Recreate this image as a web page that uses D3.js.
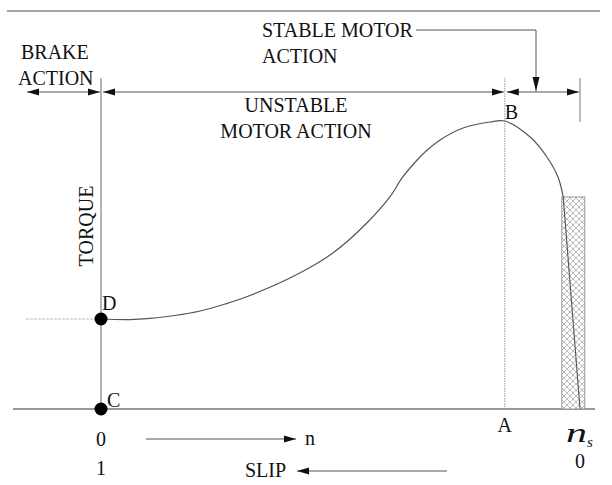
<!DOCTYPE html>
<html><head><meta charset="utf-8">
<script src="https://cdn.jsdelivr.net/npm/d3@7"></script>
<style>
html,body{margin:0;padding:0;background:#fff;}
svg{display:block;}
text{font-family:"Liberation Serif","Times New Roman",serif;fill:#111;}
</style></head>
<body>
<svg id="c" width="612" height="485"></svg>
<script>
// ---- data ----
// speed as a fraction of synchronous speed ns (0 = standstill, 1 = ns)
// torque in per-unit of starting torque (point D = 1)
const curveSpeed  = [0, 0.061, 0.102, 0.154, 0.207, 0.259, 0.311, 0.415, 0.484, 0.555, 0.603, 0.630, 0.660, 0.681, 0.708, 0.756, 0.812, 0.843, 0.896, 0.931, 0.954, 0.965];
const curveTorque = [1.00, 0.994, 1.008, 1.039, 1.089, 1.167, 1.261, 1.511, 1.733, 2.067, 2.356, 2.578, 2.767, 2.878, 2.99, 3.122, 3.189, 3.20, 3.022, 2.80, 2.578, 2.356];
const tailSpeed   = [0.965, 1.0];
const tailTorque  = [2.356, 0];
const pointNames  = ["D", "C"];
const pointSpeed  = [0, 0];
const pointTorque = [1, 0];
const maxTorqueSpeed = 0.843;     // point A / B
const hatchSpeed  = [0.962, 1.01];
const hatchTorque = [0, 2.356];
const speedTickLabels = ["0", "n"];
const slipTickLabels  = ["1", "0"];

// ---- scales ----
const x = d3.scaleLinear().domain([0, 1]).range([101, 580]);
const y = d3.scaleLinear().domain([0, 1]).range([409, 319]);

const svg = d3.select("#c");
const g = svg.append("g");
const lineCol = "#777";

// arrow markers
const defs = svg.append("defs");
function marker(id, dir) {
  const m = defs.append("marker").attr("id", id)
    .attr("markerUnits", "userSpaceOnUse")
    .attr("viewBox", "0 0 12 10").attr("markerWidth", 12).attr("markerHeight", 10)
    .attr("refX", dir > 0 ? 12 : 0).attr("refY", 5).attr("orient", "auto");
  if (dir > 0) m.append("path").attr("d", "M0,1.5 L12,5 L0,8.5 Z").attr("fill", "#111");
  else m.append("path").attr("d", "M12,1.5 L0,5 L12,8.5 Z").attr("fill", "#111");
}
marker("ae", 1); marker("as", -1);
defs.append("marker").attr("id", "down")
  .attr("markerUnits", "userSpaceOnUse")
  .attr("viewBox", "0 0 14 10").attr("markerWidth", 14).attr("markerHeight", 10)
  .attr("refX", 14).attr("refY", 5).attr("orient", "auto")
  .append("path").attr("d", "M0,1.5 L14,5 L0,8.5 Z").attr("fill", "#111");

// crosshatch pattern
const pat = defs.append("pattern").attr("id", "hatch").attr("patternUnits", "userSpaceOnUse")
  .attr("width", 6).attr("height", 6);
pat.append("rect").attr("width", 6).attr("height", 6).attr("fill", "#fff");
pat.append("path").attr("d", "M0,0 L6,6 M6,0 L0,6")
  .attr("stroke", "#aaa").attr("stroke-width", 0.8);

// top rule
g.append("line").attr("x1", 7).attr("x2", 600).attr("y1", 11).attr("y2", 11)
  .attr("stroke", "#888").attr("stroke-width", 1.5);

// baseline (torque = 0)
g.append("line").attr("x1", 13).attr("x2", 595).attr("y1", y(0)).attr("y2", y(0))
  .attr("stroke", lineCol).attr("stroke-width", 1.3);

// torque axis (speed = 0)
g.append("line").attr("x1", x(0)).attr("x2", x(0)).attr("y1", 78).attr("y2", y(0))
  .attr("stroke", lineCol).attr("stroke-width", 1.1);

// dashed line left of D
g.append("line").attr("x1", 26).attr("x2", x(0)).attr("y1", y(1)).attr("y2", y(1))
  .attr("stroke", "#bbb").attr("stroke-width", 1).attr("stroke-dasharray", "3,1");

// dotted line at max torque (A-B)
g.append("line").attr("x1", x(maxTorqueSpeed)).attr("x2", x(maxTorqueSpeed)).attr("y1", 78).attr("y2", y(0))
  .attr("stroke", "#999").attr("stroke-width", 1).attr("stroke-dasharray", "1.5,1");

// right line at ns (top only)
g.append("line").attr("x1", x(1)).attr("x2", x(1)).attr("y1", 78).attr("y2", 122)
  .attr("stroke", lineCol).attr("stroke-width", 1);

// hatched rectangle
g.append("rect")
  .attr("x", x(hatchSpeed[0])).attr("width", x(hatchSpeed[1]) - x(hatchSpeed[0]))
  .attr("y", y(hatchTorque[1])).attr("height", y(hatchTorque[0]) - y(hatchTorque[1]))
  .attr("fill", "url(#hatch)").attr("stroke", "#999").attr("stroke-width", 1);

// torque curve
const pts = curveSpeed.map((s, i) => [s, curveTorque[i]]);
const line = d3.line().x(d => x(d[0])).y(d => y(d[1])).curve(d3.curveCatmullRom.alpha(0.5));
g.append("path").attr("d", line(pts)).attr("fill", "none").attr("stroke", "#555").attr("stroke-width", 1.2);
const tail = tailSpeed.map((s, i) => [s, tailTorque[i]]);
g.append("path").attr("d", d3.line().x(d => x(d[0])).y(d => y(d[1]))(tail))
  .attr("fill", "none").attr("stroke", "#555").attr("stroke-width", 1.1);

// points D, C
pointNames.forEach((n, i) => {
  g.append("circle").attr("cx", x(pointSpeed[i])).attr("cy", y(pointTorque[i])).attr("r", 6.5).attr("fill", "#000");
});
g.append("text").attr("x", x(0) + 1).attr("y", y(1) - 9).attr("font-size", 20).text(pointNames[0]);
g.append("text").attr("x", x(0) + 6).attr("y", y(0) - 2).attr("font-size", 20).text(pointNames[1]);
g.append("text").attr("x", x(maxTorqueSpeed)).attr("y", 119).attr("font-size", 20).text("B");
g.append("text").attr("x", x(maxTorqueSpeed)).attr("y", 432).attr("text-anchor", "middle").attr("font-size", 20).text("A");

// region arrows
const arrowY = 92;
function dbl(a, b) {
  g.append("line").attr("x1", a).attr("x2", b).attr("y1", arrowY).attr("y2", arrowY)
    .attr("stroke", "#555").attr("stroke-width", 1)
    .attr("marker-start", "url(#as)").attr("marker-end", "url(#ae)");
}
dbl(27, x(0) - 1);
dbl(x(0) + 2, x(maxTorqueSpeed) - 1);
dbl(x(maxTorqueSpeed) + 2, x(1) - 1);

// region labels
const fs = 20;
g.append("text").attr("x", 21).attr("y", 59).attr("font-size", fs).text("BRAKE");
g.append("text").attr("x", 18).attr("y", 85).attr("font-size", fs).text("ACTION");
g.append("text").attr("x", 296).attr("y", 112).attr("text-anchor", "middle").attr("font-size", fs).text("UNSTABLE");
g.append("text").attr("x", 296).attr("y", 138).attr("text-anchor", "middle").attr("font-size", fs).text("MOTOR ACTION");
g.append("text").attr("x", 262).attr("y", 37).attr("font-size", fs).text("STABLE MOTOR");
g.append("text").attr("x", 262).attr("y", 63).attr("font-size", fs).text("ACTION");
// leader for stable region
g.append("path").attr("d", `M416,30 H536 V${arrowY - 1}`).attr("fill", "none")
  .attr("stroke", "#555").attr("stroke-width", 1).attr("marker-end", "url(#down)");

// torque axis label
g.append("text").attr("transform", "translate(93,226) rotate(-90)").attr("text-anchor", "middle")
  .attr("font-size", 20).text("TORQUE");

// bottom labels
g.append("text").attr("x", x(0)).attr("y", 446).attr("text-anchor", "middle").attr("font-size", 20).text(speedTickLabels[0]);
g.append("text").attr("x", x(0)).attr("y", 475).attr("text-anchor", "middle").attr("font-size", 20).text(slipTickLabels[0]);
g.append("line").attr("x1", 146).attr("x2", 296).attr("y1", 439).attr("y2", 439)
  .attr("stroke", "#555").attr("stroke-width", 1).attr("marker-end", "url(#ae)");
g.append("text").attr("x", 305).attr("y", 445).attr("font-size", 20).text(speedTickLabels[1]);
g.append("text").attr("x", 245).attr("y", 477).attr("font-size", 20).text("SLIP");
g.append("line").attr("x1", 447).attr("x2", 297).attr("y1", 471).attr("y2", 471)
  .attr("stroke", "#555").attr("stroke-width", 1).attr("marker-end", "url(#ae)");

// ns label
const ns = g.append("text").attr("x", 566).attr("y", 442).attr("font-size", 28).attr("font-style", "italic");
ns.append("tspan").text("n").attr("textLength", 21).attr("lengthAdjust", "spacingAndGlyphs");
ns.append("tspan").attr("font-size", 15).attr("dy", 5).text("s");
g.append("text").attr("x", x(1)).attr("y", 468).attr("text-anchor", "middle").attr("font-size", 20).text(slipTickLabels[1]);
</script>
</body></html>
